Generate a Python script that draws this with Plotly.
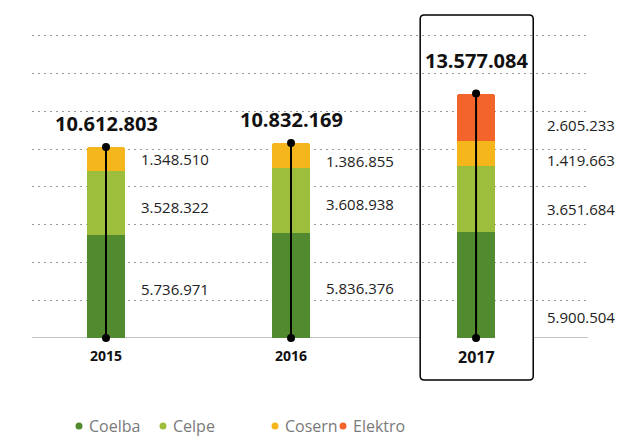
import plotly.graph_objects as go

years = ["2015", "2016", "2017"]
companies = ["Coelba", "Celpe", "Cosern", "Elektro"]
coelba = [5736971, 5836376, 5900504]
celpe = [3528322, 3608938, 3651684]
cosern = [1348510, 1386855, 1419663]
elektro = [0, 0, 2605233]
totals = [10612803, 10832169, 13577084]
colors = ["#518a2f", "#9cbe3c", "#f5b61b", "#f2642a"]

series = [coelba, celpe, cosern, elektro]
xs = list(range(len(years)))

W, H = 620, 436
ml, mr, mt, mb = 32, 32, 20, 98
plot_h = H - mt - mb
px_per_unit = 18.0 / 1e6
ymax = plot_h / px_per_unit

fig = go.Figure()

for name, vals, col in zip(companies, series, colors):
    fig.add_trace(go.Bar(
        x=xs, y=vals, name=name, marker=dict(color=col, line=dict(width=0)),
        width=0.205, showlegend=False, hoverinfo="skip"))

for i, t in zip(xs, totals):
    fig.add_trace(go.Scatter(
        x=[i, i], y=[0, t], mode="lines+markers",
        line=dict(color="black", width=2), marker=dict(color="black", size=8),
        showlegend=False, hoverinfo="skip", cliponaxis=False))

ann = []
# value labels
label_dx = [0.18, 0.18, 0.375]
shifts = {
    0: [-3, -4, 0, 0],
    1: [-3, -4, -5, 0],
    2: [-32, -10, -7, -8],
}
for i in xs:
    base = 0
    for k, vals in enumerate(series):
        v = vals[i]
        if v > 0:
            mid = base + v / 2
            ann.append(dict(
                x=i + label_dx[i], y=mid, xref="x", yref="y",
                text=f"{v:,}".replace(",", "."), showarrow=False,
                xanchor="left", yanchor="middle", yshift=shifts[i][k],
                font=dict(family="Open Sans", size=15, color="#222")))
        base += v

# totals
tot_shift = [23, 24, 33]
for i, t in zip(xs, totals):
    ann.append(dict(
        x=i, y=t, xref="x", yref="y", text=f"<b>{t:,}</b>".replace(",", "."),
        showarrow=False, xanchor="center", yanchor="middle", yshift=tot_shift[i],
        font=dict(family="Open Sans", size=20, color="#111")))

# year labels
for i, yv in zip(xs, years):
    big = i == 2
    ann.append(dict(
        x=i, y=0, xref="x", yref="y", text=f"<b>{yv}</b>", showarrow=False,
        xanchor="center", yanchor="middle", yshift=-17 if not big else -19,
        font=dict(family="Open Sans", size=16 if big else 14, color="#111")))

# legend
leg_dot_x = [79, 163, 275, 343]
leg_y = 426
shapes = []
# baseline
shapes.append(dict(type="line", xref="paper", yref="y", x0=0, x1=1, y0=0, y1=0,
                   line=dict(color="#888", width=1), layer="between"))
for name, col, dx in zip(companies, colors, leg_dot_x):
    px = (dx - ml) / (W - ml - mr)
    py = (H - mb - leg_y) / plot_h
    shapes.append(dict(type="circle", xref="paper", yref="paper",
                       xsizemode="pixel", ysizemode="pixel",
                       xanchor=px, yanchor=py, x0=-3.5, x1=3.5, y0=-3.5, y1=3.5,
                       fillcolor=col, line=dict(width=0)))
    ann.append(dict(x=px, y=py, xref="paper", yref="paper", text=name,
                    showarrow=False, xanchor="left", yanchor="middle", xshift=8,
                    font=dict(family="Open Sans", size=16, color="#7a7a7a")))

# highlight box around 2017 (rounded rect)
x_per_px = 1 / 185.0
x0, x1 = 2 - 0.302, 2 + 0.309
y1 = (H - mb - 15) / plot_h
y0 = (H - mb - 380) / plot_h
rx, ry = 4 * x_per_px, 4 / plot_h
path = (f"M {x0+rx},{y1} L {x1-rx},{y1} Q {x1},{y1} {x1},{y1-ry} "
        f"L {x1},{y0+ry} Q {x1},{y0} {x1-rx},{y0} L {x0+rx},{y0} "
        f"Q {x0},{y0} {x0},{y0+ry} L {x0},{y1-ry} Q {x0},{y1} {x0+rx},{y1} Z")
shapes.append(dict(type="path", xref="x", yref="paper", path=path,
                   fillcolor="white", line=dict(color="black", width=1.5),
                   layer="between"))

fig.update_layout(
    width=W, height=H, margin=dict(l=ml, r=mr, t=mt, b=mb),
    barmode="stack", barcornerradius=3,
    plot_bgcolor="white", paper_bgcolor="white",
    xaxis=dict(range=[-0.4, 2.605], showgrid=False, zeroline=False,
               showticklabels=False, showline=False, fixedrange=True),
    yaxis=dict(range=[0, ymax], dtick=2.1e6, tick0=0, showgrid=True,
               gridcolor="#999", gridwidth=1, griddash="2px,4px",
               zeroline=False, showticklabels=False, showline=False,
               fixedrange=True),
    annotations=ann, shapes=shapes, showlegend=False,
)

fig.write_html(
    "out.html",
    config={"displayModeBar": False},
    post_script="document.body.style.margin='0';document.body.style.overflow='hidden';",
)
